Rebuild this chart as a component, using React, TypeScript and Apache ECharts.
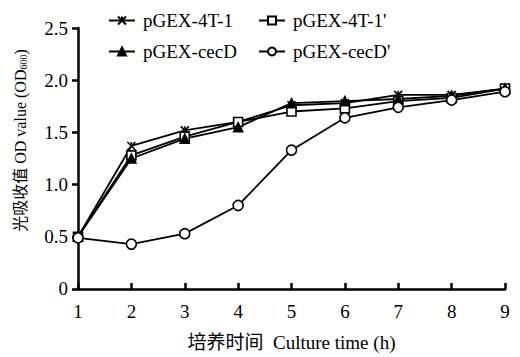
import React, { useEffect, useRef } from "react";
import * as echarts from "echarts";

const hours = [1, 2, 3, 4, 5, 6, 7, 8, 9];
const s4T1 = [0.5, 1.37, 1.52, 1.6, 1.76, 1.78, 1.86, 1.86, 1.92];
const s4T1p = [0.5, 1.28, 1.46, 1.6, 1.7, 1.73, 1.8, 1.83, 1.92];
const sCecD = [0.5, 1.25, 1.44, 1.55, 1.78, 1.8, 1.82, 1.85, 1.92];
const sCecDp = [0.49, 0.43, 0.53, 0.8, 1.33, 1.64, 1.74, 1.81, 1.89];
const yTicks = ["0", "0.5", "1.0", "1.5", "2.0", "2.5"];

const FONT = "'Liberation Serif', 'Noto Sans CJK SC', serif";
const CROSS = "path://M0,0L10,10M10,0L0,10M5,0L5,3";

export default function App() {
  const ref = useRef<HTMLDivElement>(null);
  useEffect(() => {
    const chart = echarts.init(ref.current!, null, { renderer: "svg" });
    const mk = (name: string, data: number[], symbol: string, size: number, fill: string) => ({
      name,
      type: "line",
      data: hours.map((h, i) => [h, data[i]]),
      symbol,
      symbolSize: size,
      showAllSymbol: true,
      lineStyle: { color: "#000", width: 1.8 },
      itemStyle: { color: fill, borderColor: "#000", borderWidth: 1.6 },
      z: 2,
    });
    const legendBase = {
      top: 6,
      orient: "vertical",
      itemGap: 12,
      itemWidth: 26,
      itemHeight: 10,
      textStyle: { fontFamily: FONT, fontSize: 19, color: "#000", padding: [0, 0, 0, 3] },
    };
    chart.setOption({
      animation: false,
      backgroundColor: "#fff",
      textStyle: { fontFamily: FONT },
      legend: [
        { ...legendBase, left: 103, data: ["pGEX-4T-1", "pGEX-cecD"] },
        { ...legendBase, left: 253, data: ["pGEX-4T-1'", "pGEX-cecD'"] },
      ],
      grid: { left: 78, right: 15, top: 28, bottom: 63 },
      xAxis: {
        type: "value",
        min: 1,
        max: 9,
        interval: 1,
        name: "培养时间  Culture time (h)",
        nameLocation: "middle",
        nameGap: 44,
        nameTextStyle: { fontFamily: FONT, fontSize: 19, color: "#000" },
        axisLine: { lineStyle: { color: "#000", width: 2.5 } },
        axisTick: { inside: true, length: 6, lineStyle: { color: "#000", width: 2.5 } },
        axisLabel: { fontFamily: FONT, fontSize: 19, color: "#000", margin: 13 },
        splitLine: { show: false },
      },
      yAxis: {
        type: "value",
        min: 0,
        max: 2.5,
        interval: 0.5,
        name: "光吸收值 OD value (OD{sub|600})",
        nameLocation: "middle",
        nameRotate: 90,
        nameGap: 50,
        nameTextStyle: {
          fontFamily: FONT,
          fontSize: 16,
          color: "#000",
          padding: [0, 0, 0, 36],
          rich: { sub: { fontFamily: FONT, fontSize: 10, color: "#000", verticalAlign: "bottom", padding: [6, 0, 0, 0] } },
        },
        axisLine: { show: true, lineStyle: { color: "#000", width: 2.5 } },
        axisTick: { show: true, inside: false, length: 6, lineStyle: { color: "#000", width: 2.5 } },
        axisLabel: {
          fontFamily: FONT,
          fontSize: 19,
          color: "#000",
          margin: 10,
          formatter: (v: number) => yTicks[Math.round(v / 0.5)],
        },
        splitLine: { show: false },
      },
      series: [
        mk("pGEX-4T-1", s4T1, CROSS, 8, "#000"),
        mk("pGEX-4T-1'", s4T1p, "rect", 9, "#fff"),
        mk("pGEX-cecD", sCecD, "triangle", 9, "#000"),
        mk("pGEX-cecD'", sCecDp, "circle", 10, "#fff"),
      ],
    });
    return () => chart.dispose();
  }, []);
  return (
    <div
      ref={ref}
      style={{ position: "absolute", left: 0, top: 0, width: 520, height: 357 }}
    />
  );
}
